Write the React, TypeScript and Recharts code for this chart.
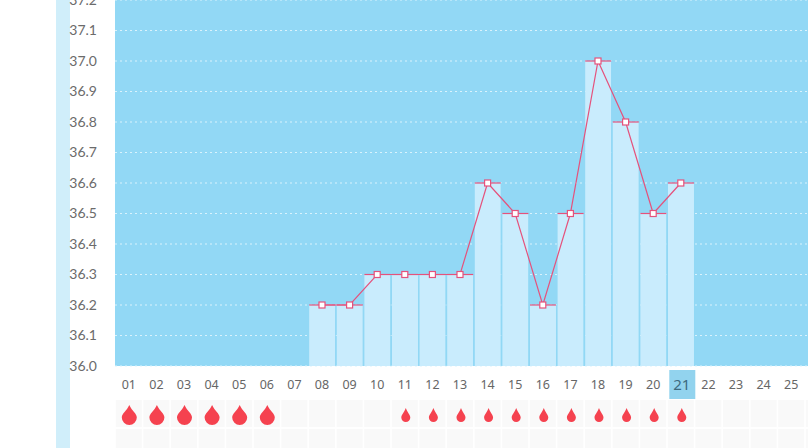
import React from "react";
import { ComposedChart, Bar, Line, XAxis, YAxis, CartesianGrid, Rectangle } from "recharts";

const days = ["01","02","03","04","05","06","07","08","09","10","11","12","13","14","15","16","17","18","19","20","21","22","23","24","25","26","27","28","29","30","31"];
const temps: (number | null)[] = [null,null,null,null,null,null,null,36.2,36.2,36.3,36.3,36.3,36.3,36.6,36.5,36.2,36.5,37.0,36.8,36.5,36.6,null,null,null,null,null,null,null,null,null,null];
const flow = [2,2,2,2,2,2,0,0,0,0,1,1,1,1,1,1,1,1,1,1,1,0,0,0,0,0,0,0,0,0,0];
const yTicks = [36.0,36.1,36.2,36.3,36.4,36.5,36.6,36.7,36.8,36.9,37.0,37.1,37.2];
const today = "21";

const data = days.map((day, i) => ({ day, temp: temps[i], flow: flow[i] }));

const PINK = "#e5527c";

const BarShape = (p: any) => {
  if (p.value == null) return null;
  return (
    <g>
      <Rectangle x={p.x} y={p.y} width={p.width} height={p.height} fill="#c9ecfd" />
      <line x1={p.x + p.width + 0.5} x2={p.x + p.width + 0.5} y1={p.y} y2={p.y + p.height} stroke="#92d8f5" strokeWidth={1} />
      <line x1={p.x} x2={p.x + p.width} y1={p.y} y2={p.y} stroke={PINK} strokeWidth={1.2} />
    </g>
  );
};

const Dot = (p: any) => {
  if (p.value == null) return null;
  return <rect x={p.cx - 3} y={p.cy - 3} width={6} height={6} fill="#fff" stroke={PINK} strokeWidth={1.2} />;
};

const drop = (cx: number, top: number, w: number, h: number) => {
  const r = w / 2;
  const bottomY = top + h - r;
  return `M${cx} ${top} C${cx + r * 0.35} ${top + h * 0.3} ${cx + r} ${bottomY - r * 0.55} ${cx + r} ${bottomY} A${r} ${r} 0 1 1 ${cx - r} ${bottomY} C${cx - r} ${bottomY - r * 0.55} ${cx - r * 0.35} ${top + h * 0.3} ${cx} ${top} Z`;
};

const DayTick = (p: any) => {
  const day = p.payload.value as string;
  const f = flow[days.indexOf(day)];
  const cx = p.x;
  const isToday = day === today;
  return (
    <g>
      <rect x={cx - 13} y={400} width={26} height={27} fill="#f9f9f9" />
      <rect x={cx - 13} y={429} width={26} height={19} fill="#f9f9f9" />
      {isToday && <rect x={cx - 11.5} y={370} width={26} height={29} fill="#92d3ee" />}
      <text
        x={isToday ? cx + 1 : cx}
        y={isToday ? 390 : 389}
        textAnchor="middle"
        fontFamily={"'Noto Sans', sans-serif"}
        fontSize={isToday ? 15 : 12.5}
        fill={isToday ? "#3d6a80" : "#666"}
      >
        {day}
      </text>
      {f === 2 && <path d={drop(cx + 0.5, 405, 15, 20)} fill="#f5424f" />}
      {f === 1 && <path d={drop(cx + 1, 408, 9, 14)} fill="#f5424f" />}
    </g>
  );
};

export default function App() {
  return (
    <div style={{ position: "absolute", left: 0, top: 0, width: 808, height: 448, overflow: "hidden", background: "#fff" }}>
      <div style={{ position: "absolute", left: 56, top: 0, width: 14, height: 448, background: "#d0eefa" }} />
      <div style={{ position: "absolute", left: 0, top: 0 }}>
        <ComposedChart
          width={970.6}
          height={448}
          data={data}
          margin={{ top: 0, right: 0, bottom: 0, left: 0 }}
          barCategoryGap={0}
        >
          <CartesianGrid
            vertical={false}
            fill="#92d8f5"
            stroke="#d9f2fc"
            strokeDasharray="2 3"
            strokeWidth={1.2}
          />
          <XAxis
            dataKey="day"
            interval={0}
            height={82}
            axisLine={false}
            tickLine={false}
            tick={<DayTick />}
          />
          <YAxis
            width={115}
            domain={[36.0, 37.2]}
            ticks={yTicks}
            tickFormatter={(v: number) => v.toFixed(1)}
            axisLine={false}
            tickLine={false}
            tickMargin={12}
            interval={0}
            tick={{ fontFamily: "Lato, sans-serif", fontSize: 14, fill: "#6b6b6b" }}
          />
          <Bar dataKey="temp" barSize={26} shape={<BarShape />} isAnimationActive={false} />
          <Line
            dataKey="temp"
            stroke={PINK}
            strokeWidth={1.2}
            type="linear"
            dot={<Dot />}
            activeDot={false}
            isAnimationActive={false}
          />
        </ComposedChart>
      </div>
    </div>
  );
}
